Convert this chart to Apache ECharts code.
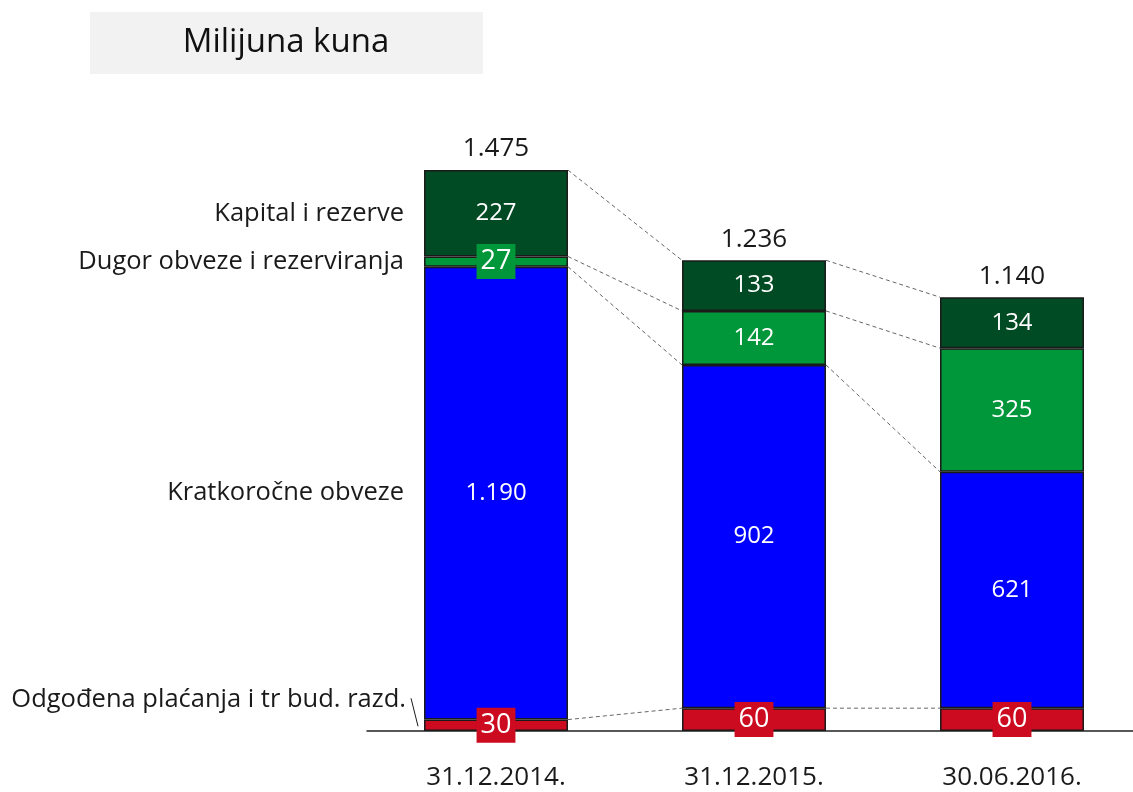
<!DOCTYPE html>
<html>
<head>
<meta charset="utf-8">
<title>Milijuna kuna</title>
<script src="https://cdn.jsdelivr.net/npm/echarts@6/dist/echarts.min.js"></script>
<style>
  html, body { margin: 0; padding: 0; background: #fff; }
  #chart { width: 1133px; height: 792px; }
</style>
</head>
<body>
<div id="chart"></div>
<script>
// podaci (milijuna kuna)
const categories = ['31.12.2014.', '31.12.2015.', '30.06.2016.'];
const seriesNames = ['Odgođena plaćanja i tr bud. razd.', 'Kratkoročne obveze', 'Dugor obveze i rezerviranja', 'Kapital i rezerve'];
const odgodena = [30, 60, 60];
const kratkorocne = [1190, 902, 621];
const dugorocne = [27, 142, 325];
const kapital = [227, 133, 134];
const totals = [1475, 1236, 1140];

const stackData = [odgodena, kratkorocne, dugorocne, kapital];
const colors = ['#CC0A20', '#0000FF', '#00963A', '#004B23'];
const FONT = '"Open Sans", "Noto Sans", sans-serif';
const BAR_RATIO = 0.558;

// 1.190 umjesto 1,190
function fmt(n) {
  return String(n).replace(/\B(?=(\d{3})+(?!\d))/g, '.');
}

// kumulativne vrijednosti po kategoriji: [0, red, +blue, +green, +darkgreen]
const cum = categories.map((c, i) => {
  const out = [0];
  stackData.forEach(arr => out.push(out[out.length - 1] + arr[i]));
  return out;
});

// isprekidane linije izmedju stupaca
const connectorData = [];
for (let g = 0; g < categories.length - 1; g++) {
  for (let k = 1; k <= stackData.length; k++) {
    connectorData.push([g, cum[g][k], cum[g + 1][k]]);
  }
}

// nazivi lijevo od prvog stupca
const nameData = stackData.map((arr, k) => [0, cum[0][k] + arr[0] / 2, k]);

const boxLabel = (bg) => ({
  show: true,
  position: 'inside',
  color: '#fff',
  fontFamily: FONT,
  fontSize: 27,
  backgroundColor: bg,
  padding: [5, 4, 3, 4]
});

const barSeries = stackData.map((arr, k) => ({
  name: seriesNames[k],
  type: 'bar',
  stack: 'total',
  barWidth: (BAR_RATIO * 100) + '%',
  itemStyle: { color: colors[k], borderColor: '#1a1a1a', borderWidth: 1.5 },
  label: {
    show: true,
    position: 'inside',
    color: '#fff',
    fontFamily: FONT,
    fontSize: 24,
    formatter: p => fmt(p.value)
  },
  data: arr.map((v, i) => {
    if (k === 0) return { value: v, label: boxLabel(colors[0]) };
    if (k === 2 && i === 0) return { value: v, label: boxLabel(colors[2]) };
    return v;
  })
}));

const chart = echarts.init(document.getElementById('chart'));

const option = {
  animation: false,
  graphic: [
    {
      type: 'rect',
      shape: { x: 90, y: 12, width: 393, height: 62 },
      style: { fill: '#F2F2F2' }
    },
    {
      type: 'text',
      x: 286,
      y: 43,
      style: {
        text: 'Milijuna kuna',
        align: 'center',
        verticalAlign: 'middle',
        fontFamily: FONT,
        fontSize: 33,
        fill: '#111'
      }
    }
  ],
  grid: { left: 367, top: 8, width: 774, bottom: 61, outerBoundsMode: 'none' },
  xAxis: {
    type: 'category',
    data: categories,
    axisLine: { lineStyle: { color: '#222', width: 1.5 } },
    axisTick: { show: false },
    axisLabel: { color: '#1a1a1a', fontFamily: FONT, fontSize: 26, margin: 34 }
  },
  yAxis: { type: 'value', min: 0, max: 1900, show: false },
  series: [
    {
      type: 'custom',
      name: 'spojnice',
      encode: { x: 0, y: [1, 2] },
      data: connectorData,
      z: 1,
      renderItem: (params, api) => {
        const g = api.value(0);
        const p0 = api.coord([g, api.value(1)]);
        const p1 = api.coord([g + 1, api.value(2)]);
        const hw = api.size([1, 0])[0] * BAR_RATIO / 2;
        return {
          type: 'line',
          shape: { x1: p0[0] + hw, y1: p0[1], x2: p1[0] - hw, y2: p1[1] },
          style: { stroke: '#666', lineWidth: 1, lineDash: [4, 3] }
        };
      }
    },
    ...barSeries,
    {
      type: 'custom',
      name: 'ukupno',
      encode: { x: 0, y: 1 },
      data: totals.map((t, i) => [i, t]),
      z: 5,
      renderItem: (params, api) => {
        const p = api.coord([api.value(0), api.value(1)]);
        return {
          type: 'text',
          x: p[0],
          y: p[1] - 21,
          style: {
            text: fmt(totals[params.dataIndex]),
            align: 'center',
            verticalAlign: 'middle',
            fontFamily: FONT,
            fontSize: 26,
            fill: '#1a1a1a'
          }
        };
      }
    },
    {
      type: 'custom',
      name: 'nazivi',
      encode: { x: 0, y: 1 },
      data: nameData,
      z: 5,
      renderItem: (params, api) => {
        const k = api.value(2);
        const p = api.coord([api.value(0), api.value(1)]);
        const hw = api.size([1, 0])[0] * BAR_RATIO / 2;
        const x = p[0] - hw - 20;
        const dy = k === 0 ? -26 : 0;
        const children = [{
          type: 'text',
          x: k === 0 ? x + 2 : x,
          y: p[1] + dy,
          style: {
            text: seriesNames[k],
            align: 'right',
            verticalAlign: 'middle',
            fontFamily: FONT,
            fontSize: 25.5,
            fill: '#1a1a1a'
          }
        }];
        if (k === 0) {
          children.push({
            type: 'line',
            shape: { x1: x + 7, y1: p[1] - 27, x2: x + 14, y2: p[1] + 1 },
            style: { stroke: '#1a1a1a', lineWidth: 1 }
          });
        }
        return { type: 'group', children };
      }
    }
  ]
};

chart.setOption(option);
window.addEventListener('resize', () => chart.resize());
</script>
</body>
</html>
